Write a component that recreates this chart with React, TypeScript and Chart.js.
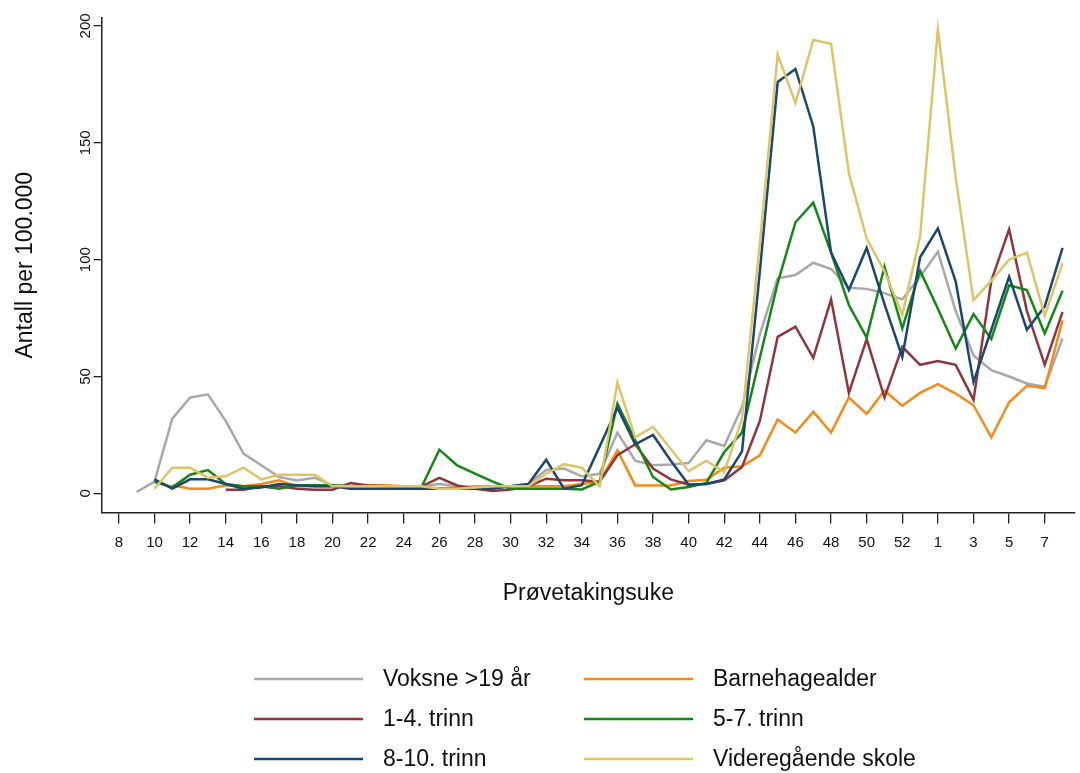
import React, { useEffect, useRef } from "react";
import { Chart, registerables } from "chart.js";

Chart.register(...registerables);

// Sampling weeks: 2020 week 8 .. 53, then 2021 week 1 .. 8
const weeks: string[] = [
  "8", "9", "10", "11", "12", "13", "14", "15", "16", "17",
  "18", "19", "20", "21", "22", "23", "24", "25", "26", "27",
  "28", "29", "30", "31", "32", "33", "34", "35", "36", "37",
  "38", "39", "40", "41", "42", "43", "44", "45", "46", "47",
  "48", "49", "50", "51", "52", "53",
  "1", "2", "3", "4", "5", "6", "7", "8",
];

// Tick labels shown on the x axis (in order)
const xTickLabels: string[] = [
  "8", "10", "12", "14", "16", "18", "20", "22", "24", "26", "28", "30",
  "32", "34", "36", "38", "40", "42", "44", "46", "48", "50", "52",
  "1", "3", "5", "7",
];

const yTicks: number[] = [0, 50, 100, 150, 200];

const voksne: (number | null)[] = [
  null, 0.6, 5, 32, 41, 42.4, 31, 17, 12, 7,
  5.5, 6.7, 3.4, 3, 3, 3, 3, 3, 4, 3,
  2.5, 3, 3, 4, 10, 10.6, 7.3, 8.4, 26, 14,
  12, 12.4, 13, 22.7, 20.3, 37, 68, 92, 93.4, 98.7,
  96, 88, 87.5, 85.6, 83, 92.7,
  103.4, 78, 59, 52.7, 50, 47, 45.6, 66.3,
];

const barnehage: (number | null)[] = [
  null, null, null, 3.5, 2, 2, 3.5, 3, 4, 5.6,
  3, 3, 3, 3, 3.5, 3.5, 3, 3, 2, 2.5,
  3, 3, 3, 3, 3, 3, 4, 5, 18.4, 3.4,
  3.4, 3.4, 5.3, 5.8, 11, 11.6, 16.3, 31.6, 26, 35,
  26, 41, 34, 44, 37.5, 43,
  46.7, 42.7, 37.7, 24, 39, 46, 45, 74,
];

const trinn1til4: (number | null)[] = [
  null, null, null, null, null, null, 1.6, 1.6, 3, 3,
  2, 1.6, 1.6, 4.4, 3.4, 3, 3, 3, 6.6, 3.4,
  2, 1, 1.7, 3, 6.3, 5.6, 5.6, 5, 16.3, 21,
  10.6, 6, 3.7, 4, 5.6, 11.3, 31, 67, 71.3, 58,
  83, 43, 66, 41, 62.7, 55,
  56.6, 55, 40, 91, 113, 78, 55, 77.7,
];

const trinn5til7: (number | null)[] = [
  null, null, 5, 2.6, 8, 10, 4, 3, 3, 2,
  3.5, 3.5, 3.5, 3, 3, 3, 3, 2.7, 18.7, 12,
  8.4, 5, 2, 2, 2, 2, 1.7, 5, 38.4, 22.7,
  7, 1.7, 2.7, 4.5, 17.7, 26, 58, 90, 116, 124.4,
  103, 80.6, 66.7, 97, 70.6, 95.3,
  79, 62, 76.7, 66, 89, 87, 68.4, 86.7,
];

const trinn8til10: (number | null)[] = [
  null, null, 6, 2, 6, 6, 4, 2, 2.5, 4,
  3.5, 3, 3, 2, 2, 2, 2, 2, 2, 2,
  2, 2, 3, 4, 14.4, 2, 3.5, 20, 36.7, 21,
  25, 14, 3.7, 4, 6, 18, 95, 176, 181.6, 157,
  103, 87, 105, 81, 58.4, 101,
  113.4, 90.6, 47.7, 70, 92.7, 70, 80, 105,
];

const videregaende: (number | null)[] = [
  null, null, 2, 11, 11, 6.7, 7.3, 11, 6, 8,
  8, 8, 3, 3, 3, 3, 3, 3, 2, 2,
  2.5, 3, 3, 3, 8.4, 12.5, 11, 3, 47.5, 24,
  28.5, 19, 9.5, 14, 9, 32, 107, 187.7, 167, 194,
  192.4, 137, 109, 95, 76.5, 110,
  198.7, 135, 82.7, 91, 100, 103, 76, 98.4,
];

const seriesLabels: string[] = [
  "Voksne >19 år",
  "Barnehagealder",
  "1-4. trinn",
  "5-7. trinn",
  "8-10. trinn",
  "Videregående skole",
];
const seriesColors: string[] = [
  "rgb(168,168,168)",
  "rgb(247,137,25)",
  "rgb(144,53,59)",
  "rgb(20,135,20)",
  "rgb(26,71,111)",
  "rgb(221,196,104)",
];
const seriesData = [voksne, barnehage, trinn1til4, trinn5til7, trinn8til10, videregaende];

const FONT = 'Arial, "Liberation Sans", sans-serif';

// positions (indices) of the tick labels along the week list
function tickIndices(): number[] {
  const out: number[] = [];
  let start = 0;
  for (const lab of xTickLabels) {
    const idx = weeks.indexOf(lab, start);
    out.push(idx);
    start = idx + 1;
  }
  return out;
}

const gridLegend = {
  id: "gridLegend",
  afterDraw(chart: any) {
    const ctx = chart.ctx as CanvasRenderingContext2D;
    const ds = chart.data.datasets;
    ctx.save();
    ctx.font = `23px ${FONT}`;
    ctx.textBaseline = "middle";
    ctx.textAlign = "left";
    ds.forEach((d: any, i: number) => {
      const col = i % 2;
      const row = Math.floor(i / 2);
      const x0 = col === 0 ? 254 : 584;
      const y = 679 + row * 40;
      ctx.strokeStyle = d.borderColor;
      ctx.lineWidth = 2.5;
      ctx.beginPath();
      ctx.moveTo(x0, y);
      ctx.lineTo(x0 + 109, y);
      ctx.stroke();
      ctx.fillStyle = "#111";
      ctx.fillText(d.label, x0 + 129, y + 1);
    });
    ctx.restore();
  },
};

export default function App() {
  const ref = useRef<HTMLCanvasElement | null>(null);

  useEffect(() => {
    document.body.style.margin = "0";
    const canvas = ref.current;
    if (!canvas) return;
    const ticksX = tickIndices();
    const datasets = seriesData.map((arr, i) => ({
      label: seriesLabels[i],
      data: arr.map((v, j) => ({ x: j, y: v })),
      borderColor: seriesColors[i],
      backgroundColor: seriesColors[i],
      borderWidth: 2.5,
      pointRadius: 0,
      tension: 0,
      fill: false,
      spanGaps: false,
      order: seriesData.length - i,
    }));

    const chart = new Chart(canvas, {
      type: "line",
      data: { datasets: datasets as any },
      options: {
        animation: false,
        responsive: false,
        devicePixelRatio: 1,
        layout: { padding: { top: 18, right: 5, left: 2, bottom: 166 } },
        plugins: {
          legend: { display: false },
          tooltip: { enabled: false },
        },
        scales: {
          x: {
            type: "linear",
            min: -0.97,
            max: 53.7,
            afterBuildTicks: (s: any) => {
              s.ticks = ticksX.map((v) => ({ value: v }));
            },
            ticks: {
              autoSkip: false,
              maxRotation: 0,
              minRotation: 0,
              color: "#111",
              font: { size: 15, family: FONT },
              padding: 10,
              callback: (v: any) => weeks[Number(v)],
            },
            grid: {
              drawOnChartArea: false,
              drawTicks: true,
              tickLength: 11,
              color: "#222",
              lineWidth: 1.3,
            },
            border: { display: true, color: "#222", width: 1.5 },
            title: {
              display: true,
              text: "Prøvetakingsuke",
              color: "#111",
              font: { size: 23, family: FONT },
              padding: { top: 18, bottom: 0 },
            },
          },
          y: {
            type: "linear",
            min: -8.14,
            max: 203.4,
            afterBuildTicks: (s: any) => {
              s.ticks = yTicks.map((v) => ({ value: v }));
            },
            ticks: {
              autoSkip: false,
              minRotation: 90,
              maxRotation: 90,
              crossAlign: "center",
              color: "#111",
              font: { size: 15, family: FONT },
              padding: -5,
            },
            grid: {
              drawOnChartArea: false,
              drawTicks: true,
              tickLength: 8,
              color: "#222",
              lineWidth: 1.3,
            },
            border: { display: true, color: "#222", width: 1.5 },
            title: {
              display: true,
              text: "Antall per 100.000",
              color: "#111",
              font: { size: 23, family: FONT },
              padding: { top: 10, bottom: 46 },
            },
          },
        },
      },
      plugins: [gridLegend],
    });
    return () => chart.destroy();
  }, []);

  return (
    <div style={{ width: 1080, height: 773, background: "#fff" }}>
      <canvas ref={ref} width={1080} height={773} style={{ display: "block" }} />
    </div>
  );
}
